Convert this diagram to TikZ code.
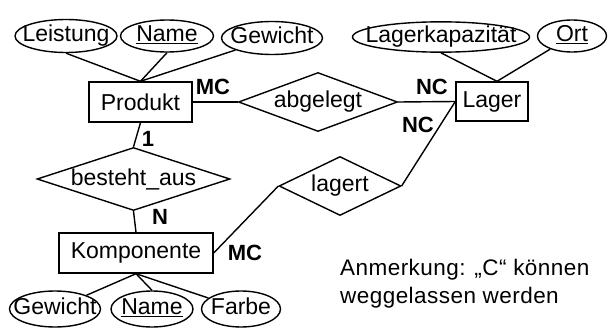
\documentclass[tikz,border=0pt]{standalone}
\usepackage{fontspec}
\setmainfont{Liberation Sans}
\newfontfamily\notefont[LetterSpace=2]{Liberation Sans}
\usetikzlibrary{shapes.geometric}
% attribute label whose width does not widen the ellipse; common height and depth
\newcommand{\attrtext}[1]{\makebox[0pt]{#1}\vphantom{Lg}}
\begin{document}
\begin{tikzpicture}[x=1pt,y=-1pt,
  every node/.style={font=\fontsize{23}{27}\selectfont},
  conn/.style={line width=1.4pt},
  entity/.style={draw,line width=1.4pt,rectangle,inner sep=0pt},
  attr/.style={draw,line width=1.4pt,ellipse,inner sep=0pt},
  rel/.style={draw,line width=1.4pt,diamond,aspect=3,inner sep=0pt},
  card/.style={font=\fontsize{22}{25}\selectfont\bfseries,inner sep=0pt}]
\useasboundingbox (0,0) rectangle (614,329);

% entities
\node[entity,minimum width=103pt,minimum height=40pt] (produkt) at (140.5,102) {Produkt};
\node[entity,minimum width=72pt,minimum height=39pt] (lager) at (492,101.5) {Lager};
\node[entity,minimum width=154pt,minimum height=40pt] (komp) at (136,253) {Komponente};

% relationships
\node[rel,minimum width=159pt,minimum height=59pt] (abgelegt) at (318,102) {abgelegt};
\node[rel,minimum width=193pt,minimum height=59pt] (besteht) at (133.5,179) {besteht\_aus};
\node[rel,minimum width=116pt,minimum height=59pt] (lagert) at (340,186) {lagert};

% attributes of Produkt
\node[attr,minimum width=102pt,minimum height=33pt] (leistung) at (66,36) {\attrtext{Leistung}};
\node[attr,minimum width=93pt,minimum height=32pt] (pname) at (167,36) {\attrtext{\underline{Name}}};
\node[attr,minimum width=101pt,minimum height=33pt] (pgewicht) at (272,38) {\attrtext{Gewicht}};

% attributes of Lager
\node[attr,minimum width=177pt,minimum height=30pt] (kapaz) at (441,37) {\attrtext{Lagerkapazität}};
\node[attr,minimum width=69pt,minimum height=32pt] (ort) at (572,36) {\attrtext{\underline{Ort}}};

% attributes of Komponente
\node[attr,minimum width=91pt,minimum height=36pt] (kgewicht) at (55,309) {\attrtext{Gewicht}};
\node[attr,minimum width=82pt,minimum height=36pt] (kname) at (152,309) {\attrtext{\underline{Name}}};
\node[attr,minimum width=79pt,minimum height=36pt] (farbe) at (241,309) {\attrtext{Farbe}};

% attribute links
\draw[conn] (leistung.south) -- (produkt.north);
\draw[conn] (pname.south) -- (produkt.north);
\draw[conn] (pgewicht) -- (produkt.north);
\draw[conn] (kapaz.south) -- ([xshift=5pt]lager.north);
\draw[conn] (ort) -- ([xshift=5pt]lager.north);
\draw[conn] (kgewicht) -- (komp.south);
\draw[conn] (kname.north) -- (komp.south);
\draw[conn] (farbe) -- (komp.south);

% relationship links
\draw[conn] (produkt.east) -- (abgelegt.west);
\draw[conn] (abgelegt.east) -- (lager.west);
\draw[conn] (produkt.south) -- (besteht.north);
\draw[conn] (besteht.south) -- (komp.north);
\draw[conn] (komp.east) -- (lagert.west);
\draw[conn] (lagert.east) -- (lager.west);

% cardinalities
\node[card] (c1) at (213,87) {MC};
\node[card] (c2) at (432,87) {NC};
\node[card] (c3) at (418,125) {NC};
\node[card] (c4) at (148,139) {1};
\node[card] (c5) at (160,217) {N};
\node[card] (c6) at (245,253) {MC};

% note
\node[anchor=west,align=left,inner sep=0pt,font=\fontsize{22.5}{28}\notefont] (note) at (340,284)
  {Anmerkung: „C“ können\\weggelassen werden};
\end{tikzpicture}
\end{document}
